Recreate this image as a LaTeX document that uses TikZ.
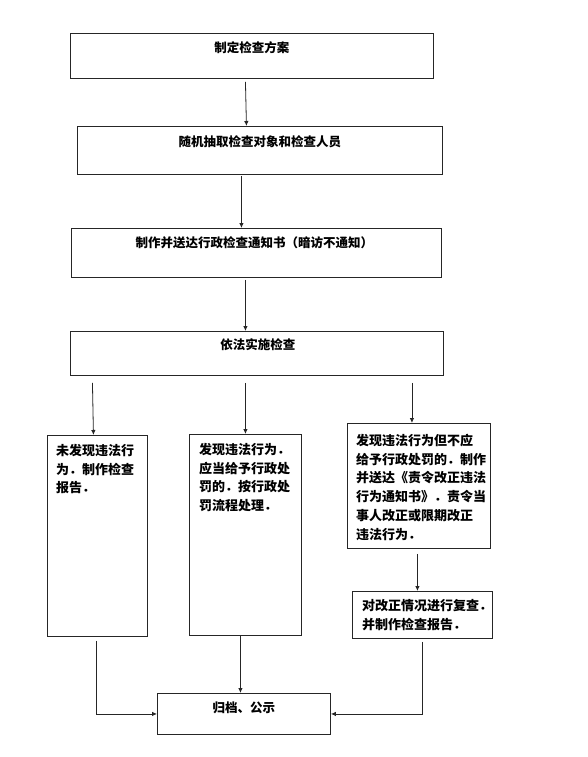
\documentclass[tikz,border=0pt]{standalone}
\usepackage{fontspec}
\setmainfont{Noto Sans CJK SC}
\usetikzlibrary{arrows.meta,calc}
\begin{document}
\begin{tikzpicture}[x=1pt,y=-1pt]
\tikzset{
 box/.style={draw=black!85, line width=0.9pt, anchor=north west, inner sep=0},
 lbl/.style={font=\bfseries\fontsize{12.5}{15}\selectfont, inner sep=0},
 para/.style={font=\bfseries\fontsize{13}{18.7}\selectfont, inner sep=0, align=left, anchor=north west},
 arr/.style={draw=black!85, line width=0.8pt, -{Latex[length=5pt,width=4.5pt]}},
 conn/.style={draw=black!85, line width=0.8pt}
}
\fill[white] (0,0) rectangle (588,757);
\useasboundingbox (0,0) rectangle (588,757);

\node[box, minimum width=363pt, minimum height=45pt] (b1) at (70,33) {};
\node[box, minimum width=365pt, minimum height=48pt] (b2) at (77,126) {};
\node[box, minimum width=370pt, minimum height=49pt] (b3) at (71,228) {};
\node[box, minimum width=373pt, minimum height=44pt] (b4) at (70,331) {};
\node[box, minimum width=100pt, minimum height=201pt] (bL) at (47,435) {};
\node[box, minimum width=112pt, minimum height=201pt] (bM) at (189,434) {};
\node[box, minimum width=143pt, minimum height=125pt] (bR) at (347,423) {};
\node[box, minimum width=140pt, minimum height=47pt] (bR2) at (352,591) {};
\node[box, minimum width=173pt, minimum height=41pt] (bot) at (157,693) {};

\node[lbl] (t1) at ($(b1.north)+(0,15)$) {制定检查方案};
\node[lbl] (t2) at ($(b2.north)+(0,16)$) {随机抽取检查对象和检查人员};
\node[lbl] (t3) at ($(b3.north)+(-2,15)$) {制作并送达行政检查通知书（暗访不通知）};
\node[lbl] (t4) at ($(b4.north)+(1,14)$) {依法实施检查};
\node[lbl] (t5) at ($(bot.north)+(0,15)$) {归档、公示};

\node[para] (pL) at (56,444) {未发现违法行\\为．制作检查\\报告．};
\node[para] (pM) at (199,443) {发现违法行为．\\应当给予行政处\\罚的．按行政处\\罚流程处理．};
\node[para] (pR) at (356,434) {发现违法行为但不应\\给予行政处罚的．制作\\并送达《责令改正违法\\行为通知书》．责令当\\事人改正或限期改正\\违法行为．};
\node[para] (pR2) at (362,599) {对改正情况进行复查．\\并制作检查报告．};

\draw[arr] ([shift={(-6.5,3)}]b1.south) -- ([shift={(-13.5,0)}]b2.north);
\draw[arr] ([shift={(-18.5,1)}]b2.south) -- ([shift={(-15,0)}]b3.north);
\draw[arr] ([shift={(-11,2)}]b3.south) -- ([shift={(-11.5,0)}]b4.north);

\draw[arr] ([shift={(-5,7)}]b4.south -| bL.north) -- ([shift={(-4,0)}]bL.north);
\draw[arr] ([shift={(0,7)}]b4.south -| bM.north) -- (bM.north);
\draw[arr] ([shift={(-7,7)}]b4.south -| bR.north) -- ([shift={(-7,0)}]bR.north);
\draw[arr] ([shift={(-1.5,5)}]bR.south) -- ([shift={(-5,0)}]bR2.north);

\draw[arr] ([shift={(-1,4)}]bL.south) |- (bot.west);
\draw[arr] ([shift={(-5,0)}]bM.south) -- ([shift={(-5,0)}]bM.south |- bot.north);
\draw[arr] ([shift={(0,3)}]bR2.south) |- (bot.east);
\end{tikzpicture}
\end{document}
